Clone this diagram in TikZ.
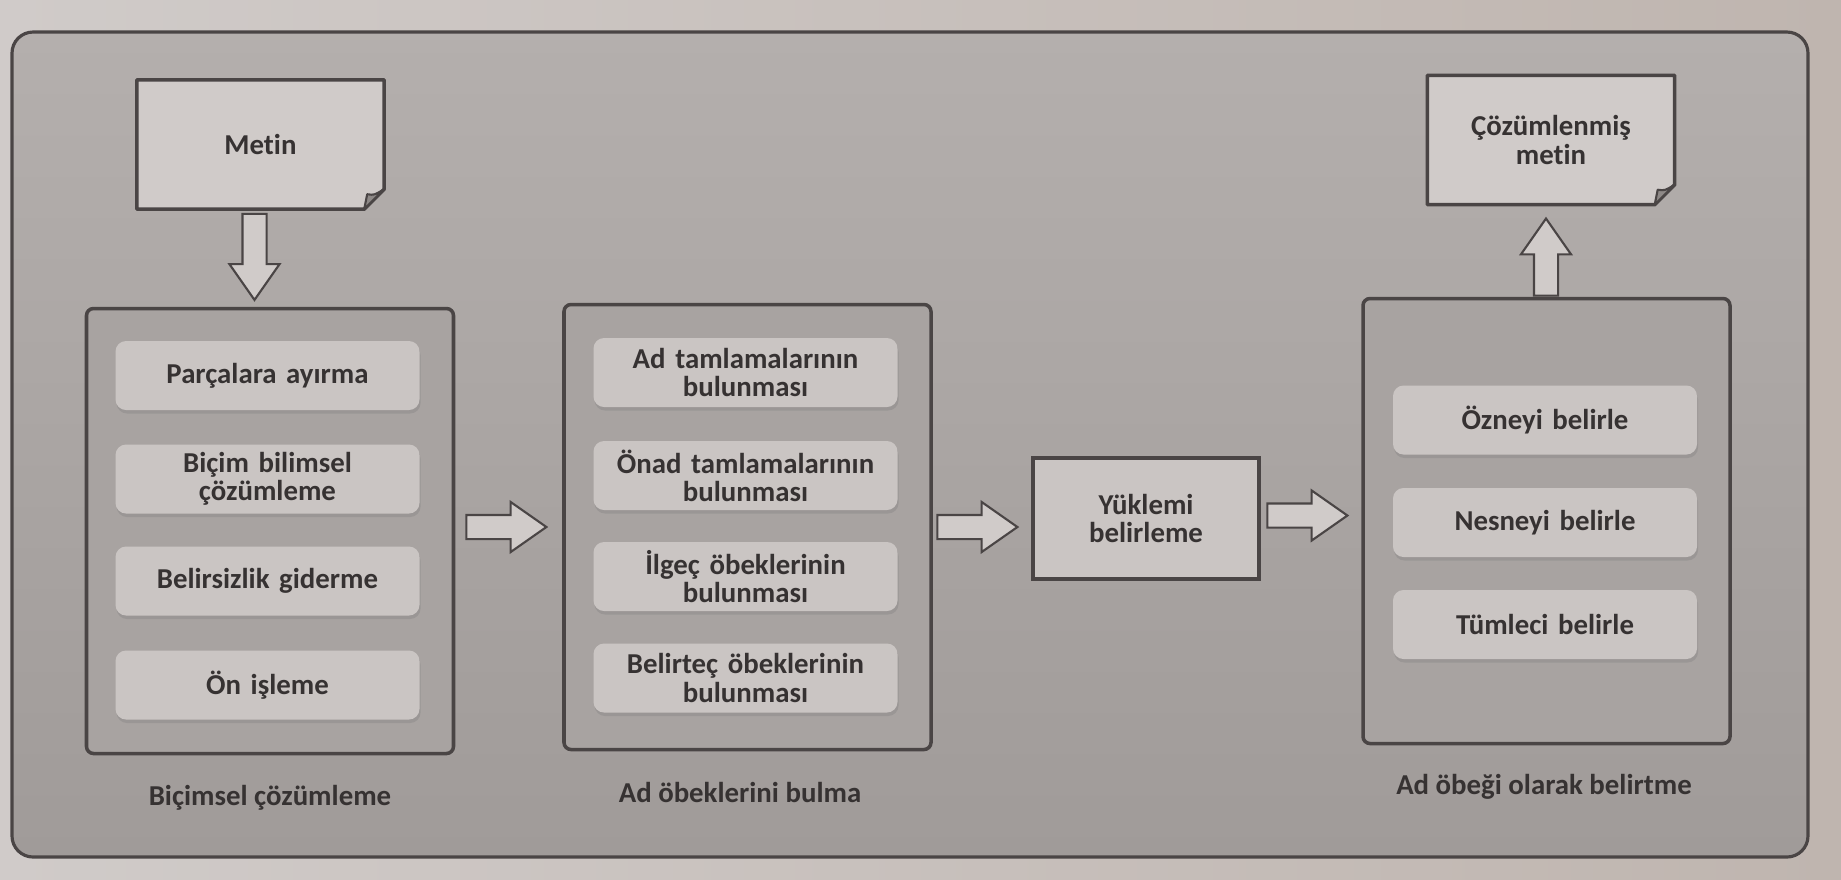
\documentclass[tikz,border=0pt]{standalone}
\usepackage{fontspec}
\setmainfont{Carlito}[Ligatures=NoCommon]
\usetikzlibrary{shapes.arrows}
\usetikzlibrary{shadows}
\usetikzlibrary{calc}

\definecolor{pageleft}{HTML}{D0CBC9}
\definecolor{pageright}{HTML}{BFB5AF}
\definecolor{outertop}{HTML}{B4AFAD}
\definecolor{outerbot}{HTML}{A09B99}
\definecolor{framegray}{HTML}{A8A3A1}
\definecolor{boxgray}{HTML}{CAC5C3}
\definecolor{docgray}{HTML}{D0CBC9}
\definecolor{foldgray}{HTML}{8E8987}
\definecolor{linegray}{HTML}{4A4545}
\definecolor{textgray}{HTML}{363232}

\pgfdeclarelayer{back}
\pgfdeclarelayer{docs}
\pgfsetlayers{back,docs,main}

\tikzstyle{stagebox}=[
      rectangle,
      draw = linegray,
      line width = 1pt,
      rounded corners = 2pt,
      fill = framegray,
      minimum width = 3.67cm,
      minimum height = 4.45cm
      ]
\tikzstyle{stepbox}=[
      rectangle,
      rounded corners = 3pt,
      fill = boxgray,
      minimum width = 3.04cm,
      minimum height = 0.69cm,
      text width = 2.9cm,
      align = center,
      inner sep = 0pt,
      drop shadow = {shadow xshift=0.3pt, shadow yshift=-1pt, opacity=0.35}
      ]
\tikzstyle{predbox}=[
      rectangle,
      draw = linegray,
      line width = 1pt,
      fill = boxgray,
      minimum width = 2.26cm,
      minimum height = 1.21cm,
      align = center
      ]
\tikzstyle{docbox}=[
      rectangle,
      minimum width = 2.46cm,
      minimum height = 1.28cm,
      align = center
      ]
\tikzstyle{docline}=[
      draw = linegray,
      line width = 1pt,
      line join = round
      ]
\tikzstyle{blockarrow}=[
      single arrow,
      draw = linegray,
      line width = 0.6pt,
      fill = docgray,
      minimum height = 0.8cm,
      single arrow head extend = 0.13cm,
      single arrow tip angle = 70,
      inner sep = 0.11cm,
      anchor = tip
      ]

% folded corner document outline, drawn under the node text
\newcommand{\foldeddoc}[1]{%
  \begin{pgfonlayer}{docs}
    \filldraw[docline, fill=docgray] (#1.north west) -- (#1.north east)
      -- ([yshift=0.2cm]#1.south east) -- ([xshift=-0.2cm]#1.south east)
      -- (#1.south west) -- cycle;
    \filldraw[docline, line width=0.6pt, fill=foldgray] ([xshift=-0.2cm]#1.south east)
      -- ([yshift=0.2cm]#1.south east)
      .. controls ([xshift=-0.1cm,yshift=0.14cm]#1.south east) .. ([xshift=-0.17cm,yshift=0.15cm]#1.south east)
      -- cycle;
  \end{pgfonlayer}}

\begin{document}
\begin{tikzpicture}[font=\fontsize{8.2}{8}\selectfont\bfseries, text=textgray]
\useasboundingbox (0,0) rectangle (18.41,-8.79);
\begin{pgfonlayer}{back}
  \shade[left color=pageleft, right color=pageright] (0,0) rectangle (18.41,-8.79);
  \draw[draw=linegray, line width=0.9pt, rounded corners=6pt,
        top color=outertop, bottom color=outerbot] (0.12,-0.32) rectangle (18.08,-8.57);
\end{pgfonlayer}

% the three stages
\node[stagebox] (bicim) at (2.70,-5.31) {};
\node[stagebox] (adob) at (7.475,-5.27) {};
\node[stagebox] (belirt) at (15.465,-5.21) {};

\node[stepbox] (parca) at (2.675,-3.755) {Parçalara ayırma};
\node[stepbox] (bicimbil) at (2.675,-4.79) {Biçim bilimsel\\çözümleme};
\node[stepbox] (belirsiz) at (2.675,-5.81) {Belirsizlik giderme};
\node[stepbox] (onisleme) at (2.675,-6.85) {Ön işleme};

\node[stepbox] (adtam) at (7.455,-3.725) {Ad tamlamalarının\\bulunması};
\node[stepbox] (onad) at (7.455,-4.755) {Önad tamlamalarının\\bulunması};
\node[stepbox] (ilgec) at (7.455,-5.765) {İlgeç öbeklerinin\\bulunması};
\node[stepbox] (belirtec) at (7.455,-6.78) {Belirteç öbeklerinin\\bulunması};

\node[stepbox] (ozne) at (15.45,-4.20) {Özneyi belirle};
\node[stepbox] (nesne) at (15.45,-5.225) {Nesneyi belirle};
\node[stepbox] (tumlec) at (15.45,-6.245) {Tümleci belirle};

\node[predbox] (yuklem) at (11.46,-5.185) {Yüklemi\\belirleme};

% input and output documents
\node[docbox] (metin) at (2.605,-1.445) {Metin};
\foldeddoc{metin}
\node[docbox] (cozum) at (15.51,-1.40) {Çözümlenmiş\\metin};
\foldeddoc{cozum}

% block arrows
\node[blockarrow, shape border rotate=270, minimum height=0.86cm] (ar0)
  at ($(metin.south |- bicim.north) + (-0.06,0.05)$) {};
\node[blockarrow] (ar1) at ($(adob.west) + (-0.14,0)$) {};
\node[blockarrow] (ar2) at ($(yuklem.west |- adob.west) + (-0.12,0)$) {};
\node[blockarrow] (ar3) at ($(belirt.west |- yuklem.east) + (-0.12,0.03)$) {};
\node[blockarrow, shape border rotate=90, minimum height=0.77cm] (ar4)
  at ($(cozum.south) + (-0.05,-0.12)$) {};

% stage names
\node (lbicim) at (2.70,-7.98) {Biçimsel çözümleme};
\node (ladob) at (7.40,-7.92) {Ad öbeklerini bulma};
\node (lbelirt) at (15.44,-7.87) {Ad öbeği olarak belirtme};
\end{tikzpicture}
\end{document}
